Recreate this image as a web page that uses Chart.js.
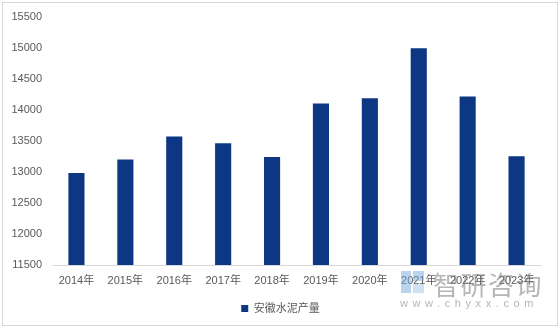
<!DOCTYPE html>
<html>
<head>
<meta charset="utf-8">
<script src="https://cdn.jsdelivr.net/npm/chart.js@4"></script>
<style>
  body { margin: 0; background: #fff; }
  #wrap { position: relative; width: 560px; height: 328px; }
  #frame { position: absolute; left: 2px; top: 2px; width: 554px; height: 322px; border: 1px solid #d9d9d9; pointer-events: none; }
  .wm { position: absolute; color: rgba(120,120,120,0.55); font-family: "Noto Sans CJK SC", sans-serif; white-space: nowrap; }
  #wmLogo1 { position: absolute; left: 401px; top: 271px; width: 10px; height: 22px; background: rgba(120,170,220,0.5); }
  #wmLogo2 { position: absolute; left: 413px; top: 271px; width: 11px; height: 10px; background: rgba(120,170,220,0.5); }
  #wmLogo3 { position: absolute; left: 413px; top: 284px; width: 11px; height: 9px; background: rgba(120,170,220,0.35); }
</style>
</head>
<body>
<div id="wrap">
  <canvas id="cementChart" width="560" height="328"></canvas>
  <div id="frame"></div>
  <div id="wmLogo1"></div><div id="wmLogo2"></div><div id="wmLogo3"></div>
  <div class="wm" style="left:433px; top:265px; font-size:26px; letter-spacing:1.5px;">智研咨询</div>
  <div class="wm" style="left:400px; top:297px; font-size:11px; letter-spacing:4.6px; font-family:'Liberation Sans', sans-serif;">www.chyxx.com</div>
</div>
<script>
const years = ["2014年", "2015年", "2016年", "2017年", "2018年", "2019年", "2020年", "2021年", "2022年", "2023年"];
const output = [12980, 13200, 13570, 13460, 13240, 14100, 14185, 14990, 14215, 13250];
const seriesName = "安徽水泥产量";

const fontFamily = '"Liberation Sans", "Noto Sans CJK SC", sans-serif';

// nudge the legend so it is centred on the whole frame, not the padded area
const legendShift = {
    id: "legendShift",
    afterLayout(chart) {
        chart.legend.left += 10;
        chart.legend.right += 10;
    }
};

const chartConfig = {
    type: "bar",
    data: {
        labels: years,
        datasets: [{
            label: seriesName,
            data: output,
            backgroundColor: "#0e3783",
            borderWidth: 0,
            barPercentage: 0.33,
            categoryPercentage: 1
        }]
    },
    options: {
        responsive: false,
        animation: false,
        layout: { padding: { top: 16, right: 19, bottom: 4, left: 0 } },
        plugins: {
            legend: {
                display: true,
                position: "bottom",
                labels: {
                    boxWidth: 7,
                    boxHeight: 7,
                    padding: 10,
                    color: "#595959",
                    font: { family: fontFamily, size: 11 }
                }
            },
            tooltip: { enabled: false }
        },
        scales: {
            x: {
                grid: { display: false, drawTicks: false },
                border: { display: true, color: "#d9d9d9", width: 1 },
                ticks: { color: "#595959", padding: 9, maxRotation: 0, font: { family: fontFamily, size: 11 } },
                afterFit: (scale) => { scale.height = 28; }
            },
            y: {
                min: 11500,
                max: 15500,
                grid: { display: false, drawTicks: false },
                border: { display: false },
                ticks: {
                    stepSize: 500,
                    color: "#595959",
                    padding: 10,
                    font: { family: fontFamily, size: 11 },
                    callback: (value) => String(value)
                },
                afterFit: (scale) => { scale.width = 52; }
            }
        }
    },
    plugins: [legendShift]
};

const cementChart = new Chart(document.getElementById("cementChart"), chartConfig);
</script>
</body>
</html>
